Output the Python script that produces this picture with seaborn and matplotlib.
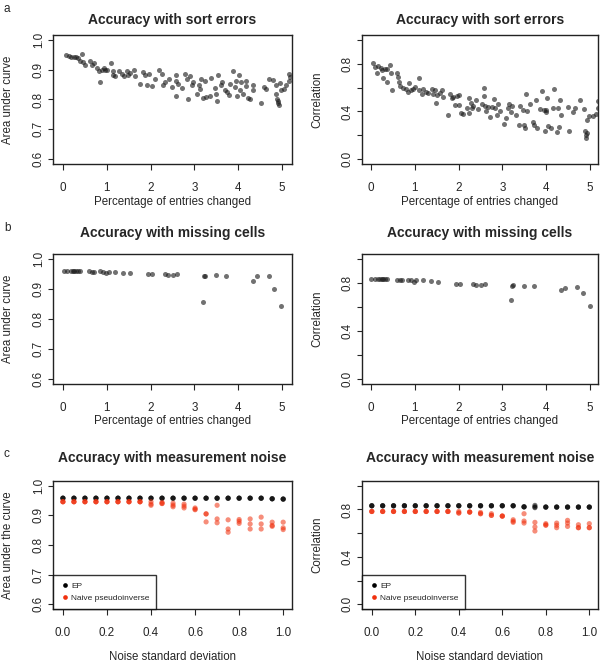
import numpy as np
import pandas as pd
import seaborn as sns
import matplotlib.pyplot as plt
from matplotlib.ticker import FixedLocator, FixedFormatter

# --- panel a: sort errors (percentage changed vs accuracy) ---
sort_x_auc = [0.07, 0.13, 0.18, 0.24, 0.30, 0.33, 0.39, 0.43, 0.46, 0.51, 0.61, 0.66, 0.70, 0.77,
              0.83, 0.85, 0.89, 0.93, 0.96, 1.00, 1.10, 1.14, 1.15, 1.19, 1.27, 1.34, 1.40, 1.46,
              1.49, 1.53, 1.61, 1.65, 1.76, 1.82, 1.87, 1.91, 1.97, 2.03, 2.10, 2.20, 2.25, 2.28,
              2.33, 2.41, 2.48, 2.58, 2.58, 2.59, 2.63, 2.71, 2.78, 2.82, 2.86, 2.90, 2.94, 2.97,
              3.05, 3.10, 3.13, 3.16, 3.19, 3.24, 3.26, 3.35, 3.37, 3.47, 3.49, 3.52, 3.54, 3.60,
              3.64, 3.70, 3.74, 3.79, 3.81, 3.88, 3.92, 3.96, 3.98, 4.02, 4.04, 4.07, 4.11, 4.17,
              4.19, 4.23, 4.28, 4.34, 4.35, 4.53, 4.58, 4.64, 4.70, 4.80, 4.86, 4.87, 4.88, 4.90,
              4.92, 4.93, 4.95, 4.98, 5.04, 5.10, 5.16, 5.17, 5.19]
sort_auc = [0.950, 0.947, 0.942, 0.942, 0.944, 0.939, 0.930, 0.953, 0.927, 0.917, 0.930, 0.917,
            0.922, 0.906, 0.897, 0.860, 0.900, 0.906, 0.898, 0.900, 0.922, 0.894, 0.883, 0.878,
            0.894, 0.887, 0.880, 0.894, 0.883, 0.889, 0.900, 0.880, 0.853, 0.891, 0.883, 0.850,
            0.887, 0.844, 0.867, 0.900, 0.887, 0.850, 0.858, 0.867, 0.842, 0.883, 0.861, 0.813,
            0.853, 0.839, 0.887, 0.867, 0.802, 0.880, 0.847, 0.858, 0.817, 0.847, 0.836, 0.867,
            0.806, 0.861, 0.809, 0.811, 0.872, 0.839, 0.817, 0.794, 0.883, 0.850, 0.858, 0.833,
            0.824, 0.814, 0.853, 0.894, 0.842, 0.861, 0.813, 0.883, 0.833, 0.858, 0.817, 0.861,
            0.844, 0.806, 0.803, 0.850, 0.831, 0.787, 0.842, 0.836, 0.867, 0.864, 0.850, 0.817,
            0.802, 0.794, 0.787, 0.780, 0.856, 0.833, 0.836, 0.847, 0.861, 0.887, 0.876]

sort_x_cor = [0.06, 0.10, 0.15, 0.17, 0.23, 0.25, 0.27, 0.33, 0.36, 0.38, 0.44, 0.46, 0.48, 0.59,
              0.63, 0.65, 0.67, 0.74, 0.81, 0.84, 0.88, 0.91, 0.96, 1.01, 1.09, 1.11, 1.16, 1.20,
              1.26, 1.31, 1.39, 1.41, 1.47, 1.49, 1.52, 1.58, 1.62, 1.64, 1.77, 1.81, 1.85, 1.88,
              1.92, 1.96, 2.00, 2.02, 2.05, 2.11, 2.19, 2.23, 2.25, 2.28, 2.30, 2.34, 2.40, 2.45,
              2.53, 2.58, 2.58, 2.61, 2.63, 2.68, 2.71, 2.76, 2.80, 2.83, 2.87, 2.91, 2.95, 3.04,
              3.09, 3.12, 3.16, 3.19, 3.21, 3.31, 3.37, 3.40, 3.47, 3.50, 3.52, 3.54, 3.56, 3.63,
              3.69, 3.72, 3.77, 3.80, 3.85, 3.90, 3.95, 3.97, 3.99, 4.00, 4.02, 4.04, 4.10, 4.15,
              4.18, 4.24, 4.27, 4.29, 4.32, 4.34, 4.50, 4.53, 4.60, 4.66, 4.78, 4.87, 4.89, 4.90,
              4.91, 4.92, 4.94, 4.97, 5.06, 5.14, 5.17, 5.19]
sort_cor = [0.809, 0.772, 0.719, 0.781, 0.767, 0.747, 0.677, 0.758, 0.646, 0.753, 0.789, 0.719,
            0.579, 0.719, 0.691, 0.646, 0.612, 0.598, 0.590, 0.562, 0.635, 0.579, 0.584, 0.607,
            0.677, 0.579, 0.542, 0.584, 0.562, 0.551, 0.584, 0.542, 0.579, 0.472, 0.534, 0.556,
            0.579, 0.522, 0.374, 0.542, 0.514, 0.522, 0.458, 0.528, 0.534, 0.458, 0.388, 0.382,
            0.430, 0.514, 0.388, 0.472, 0.430, 0.449, 0.494, 0.421, 0.466, 0.598, 0.528, 0.444,
            0.402, 0.438, 0.354, 0.438, 0.506, 0.430, 0.374, 0.466, 0.402, 0.298, 0.346, 0.430,
            0.466, 0.393, 0.449, 0.374, 0.289, 0.444, 0.410, 0.289, 0.261, 0.548, 0.402, 0.466,
            0.309, 0.289, 0.494, 0.261, 0.421, 0.570, 0.416, 0.233, 0.416, 0.393, 0.514, 0.281,
            0.261, 0.430, 0.590, 0.225, 0.430, 0.270, 0.500, 0.374, 0.438, 0.233, 0.393, 0.430,
            0.492, 0.421, 0.233, 0.205, 0.177, 0.219, 0.326, 0.360, 0.365, 0.382, 0.486, 0.430]

# --- panel b: missing cells ---
miss_x = [0.01, 0.09, 0.17, 0.22, 0.25, 0.29, 0.33, 0.38, 0.59, 0.66, 0.71, 0.85, 0.91, 0.99,
          1.04, 1.19, 1.37, 1.53, 1.95, 2.03, 2.32, 2.39, 2.51, 2.61, 3.19, 3.22, 3.24, 3.50,
          3.72, 4.33, 4.42, 4.70, 4.83, 4.99]
miss_auc = [0.959, 0.959, 0.959, 0.959, 0.959, 0.959, 0.959, 0.958, 0.959, 0.957, 0.956, 0.959,
            0.957, 0.952, 0.957, 0.955, 0.953, 0.952, 0.948, 0.950, 0.948, 0.945, 0.945, 0.950,
            0.856, 0.944, 0.942, 0.945, 0.944, 0.925, 0.944, 0.944, 0.900, 0.842]
miss_cor = [0.833, 0.833, 0.833, 0.833, 0.833, 0.832, 0.832, 0.831, 0.828, 0.826, 0.824, 0.826,
            0.822, 0.808, 0.822, 0.820, 0.814, 0.806, 0.794, 0.794, 0.792, 0.786, 0.786, 0.794,
            0.658, 0.778, 0.782, 0.775, 0.775, 0.745, 0.760, 0.765, 0.720, 0.605]

# --- panel c: measurement noise, replicates per noise level ---
noise_sd = [0.0, 0.05, 0.1, 0.15, 0.2, 0.25, 0.3, 0.35, 0.4, 0.45, 0.5,
            0.55, 0.6, 0.65, 0.7, 0.75, 0.8, 0.85, 0.9, 0.95, 1.0]
ep_auc = [[0.958, 0.958, 0.958]] * 19 + [[0.956, 0.956, 0.956], [0.955, 0.955, 0.955]]
naive_auc = [[0.946, 0.946, 0.946]] * 8 + [
    [0.946, 0.938, 0.934], [0.944, 0.940, 0.940], [0.941, 0.934, 0.929],
    [0.938, 0.931, 0.925], [0.925, 0.919, 0.921], [0.905, 0.878, 0.905],
    [0.934, 0.888, 0.875], [0.885, 0.854, 0.843], [0.886, 0.880, 0.873],
    [0.888, 0.871, 0.854], [0.894, 0.871, 0.854], [0.877, 0.866, 0.863],
    [0.877, 0.858, 0.852]]
ep_cor = [[0.831, 0.831, 0.831]] * 14 + [[0.822, 0.822, 0.822], [0.834, 0.815, 0.822]] + \
    [[0.820, 0.820, 0.820]] * 5
naive_cor = [[0.783, 0.783, 0.783]] * 8 + [
    [0.783, 0.770, 0.770], [0.778, 0.778, 0.778], [0.775, 0.764, 0.764],
    [0.764, 0.750, 0.750], [0.744, 0.744, 0.744], [0.713, 0.691, 0.700],
    [0.764, 0.702, 0.685], [0.691, 0.652, 0.618], [0.680, 0.666, 0.670],
    [0.685, 0.666, 0.646], [0.708, 0.685, 0.657], [0.671, 0.646, 0.646],
    [0.680, 0.646, 0.646]]


def noise_frame(ep, naive):
    rows = []
    for sd, e_vals, n_vals in zip(noise_sd, ep, naive):
        rows += [(sd, v, "EP") for v in e_vals]
        rows += [(sd, v, "Naive pseudoinverse") for v in n_vals]
    return pd.DataFrame(rows, columns=["sd", "value", "method"])


sns.set_style("ticks")
plt.rcParams["font.family"] = ["Liberation Sans", "DejaVu Sans"]

W, H = 600, 663
fig = plt.figure(figsize=(6, 6.63), dpi=100)

cols = [(53, 239), (362, 236)]
rows_px = [(35, 129), (254, 130), (481, 128)]


def make_ax(r, c):
    x0, w = cols[c]
    y0, h = rows_px[r]
    return fig.add_axes([x0 / W, 1 - (y0 + h) / H, w / W, h / H])


def style_ax(ax, ylim, yticks, ylabels, xticks, xlabels, xlim, xlab, ylab, h, xlab_off):
    ax.set_xlim(*xlim)
    ax.set_ylim(*ylim)
    ax.yaxis.set_major_locator(FixedLocator(yticks))
    ax.yaxis.set_major_formatter(FixedFormatter(ylabels))
    ax.xaxis.set_major_locator(FixedLocator(xticks))
    ax.xaxis.set_major_formatter(FixedFormatter(xlabels))
    for s in ax.spines.values():
        s.set_visible(True)
        s.set_linewidth(1.0)
        s.set_color("#222222")
    ax.tick_params(axis="x", length=4.3, width=0.8, pad=8.5, labelsize=8.4)
    ax.tick_params(axis="y", length=3.8, width=0.8, pad=2, labelsize=8.4, labelrotation=90)
    for lab in ax.get_yticklabels():
        lab.set_va("center")
    ax.set_xlabel(xlab, fontsize=8.3)
    ax.set_ylabel(ylab, fontsize=8.3)
    ax.xaxis.set_label_coords(0.5, -xlab_off / h)
    ax.yaxis.set_label_coords(-39 / 239, 0.5)


pt_kw = dict(s=13, color="#1a1a1a", alpha=0.62, linewidth=0)
auc_ticks = [0.6, 0.7, 0.8, 0.9, 1.0]
auc_labs = ["0.6", "0.7", "0.8", "0.9", "1.0"]
cor_ticks = [0.0, 0.2, 0.4, 0.6, 0.8, 1.0]
cor_labs = ["0.0", "", "0.4", "", "0.8", ""]
pct_ticks = [0, 1, 2, 3, 4, 5]
pct_labs = ["0", "1", "2", "3", "4", "5"]
sd_ticks = [0.0, 0.2, 0.4, 0.6, 0.8, 1.0]
sd_labs = ["0.0", "0.2", "0.4", "0.6", "0.8", "1.0"]
pct_lab = "Percentage of entries changed"

# row a
ax = make_ax(0, 0)
sns.scatterplot(x=sort_x_auc, y=sort_auc, ax=ax, **pt_kw)
style_ax(ax, (0.584, 1.016), auc_ticks, auc_labs, pct_ticks, pct_labs, (-0.23, 5.23),
         pct_lab, "Area under curve", 129, 32)
ax = make_ax(0, 1)
sns.scatterplot(x=sort_x_cor, y=sort_cor, ax=ax, **pt_kw)
style_ax(ax, (-0.04, 1.04), cor_ticks, cor_labs, pct_ticks, pct_labs, (-0.2, 5.18),
         pct_lab, "Correlation", 129, 32)

# row b
ax = make_ax(1, 0)
sns.scatterplot(x=miss_x, y=miss_auc, ax=ax, **pt_kw)
style_ax(ax, (0.584, 1.016), auc_ticks, auc_labs, pct_ticks, pct_labs, (-0.23, 5.23),
         pct_lab, "Area under curve", 130, 31)
ax = make_ax(1, 1)
sns.scatterplot(x=miss_x, y=miss_cor, ax=ax, **pt_kw)
style_ax(ax, (-0.04, 1.04), cor_ticks, cor_labs, pct_ticks, pct_labs, (-0.2, 5.18),
         pct_lab, "Correlation", 130, 31)

# row c
pal = {"EP": "#000000", "Naive pseudoinverse": "#F0300E"}
for c, (ep, naive, ylim, yt, yl, ylab) in enumerate([
        (ep_auc, naive_auc, (0.584, 1.016), auc_ticks, auc_labs, "Area under the curve"),
        (ep_cor, naive_cor, (-0.04, 1.04), cor_ticks, cor_labs, "Correlation")]):
    ax = make_ax(2, c)
    df = noise_frame(ep, naive)
    sns.scatterplot(data=df, x="sd", y="value", hue="method", palette=pal, ax=ax,
                    s=14, alpha=0.55, linewidth=0)
    style_ax(ax, ylim, yt, yl, sd_ticks, sd_labs, (-0.045, 1.04),
             "Noise standard deviation", ylab, 128, 42)
    handles, labels = ax.get_legend_handles_labels()
    for hnd in handles:
        hnd.set_alpha(1)
    leg = ax.legend(handles, labels, loc="lower left", fontsize=6.0, frameon=True,
                    fancybox=False, borderaxespad=0, borderpad=0.8, handletextpad=0.2,
                    labelspacing=0.55, markerscale=0.9, handlelength=1.2)
    leg.get_frame().set_edgecolor("#000000")
    leg.get_frame().set_linewidth(1.0)

# titles and panel letters
titles = ["Accuracy with sort errors", "Accuracy with missing cells",
          "Accuracy with measurement noise"]
title_y = [20, 233, 458]
for r in range(3):
    for c in range(2):
        x0, w = cols[c]
        fig.text((x0 + w / 2) / W, 1 - title_y[r] / H, titles[r], ha="center", va="center",
                 fontsize=10, fontweight="bold")
for letter, yy in zip("abc", [9, 228, 454]):
    fig.text(4 / W, 1 - yy / H, letter, ha="left", va="center", fontsize=8.5)

fig.savefig("out.png", dpi=100)
